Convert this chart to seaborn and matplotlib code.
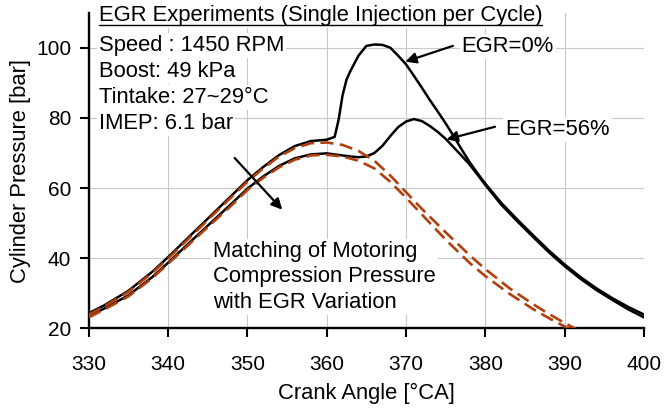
import matplotlib
matplotlib.use("Agg")
import matplotlib.pyplot as plt
import seaborn as sns
import numpy as np
import pandas as pd

# ---------------- data ----------------
angle_f0 = [330, 332, 335, 338, 340, 343, 345, 348, 350, 352, 354, 356, 358, 360, 361,
            361.5, 362, 362.5, 363, 364, 365, 366, 367, 368, 369, 370, 371, 372, 373,
            374, 375, 376, 377, 378, 379, 380, 382, 384, 386, 388, 390, 392, 394, 396,
            398, 400]
press_f0 = [24.2, 26.5, 30.6, 36.0, 40.2, 46.8, 51.2, 57.8, 62.2, 66.0, 69.4, 72.0, 73.4,
            73.8, 74.6, 79.5, 86.5, 91.0, 93.5, 97.8, 100.6, 101.0, 100.9, 100.1, 97.8,
            95.3, 92.0, 88.6, 85.1, 81.8, 78.4, 74.8, 71.0, 67.4, 64.2, 61.2, 55.7, 51.0,
            46.5, 42.1, 38.1, 34.5, 31.3, 28.5, 26.0, 23.8]

angle_f56 = [330, 332, 335, 338, 340, 343, 345, 348, 350, 352, 354, 356, 358, 360, 362,
             363, 364, 365, 366, 367, 368, 369, 370, 371, 372, 373, 374, 375, 376, 377,
             378, 379, 380, 382, 384, 386, 388, 390, 392, 394, 396, 398, 400]
press_f56 = [23.3, 25.6, 29.3, 34.5, 38.6, 45.0, 49.2, 55.5, 59.8, 63.3, 66.3, 68.5, 69.6,
             69.9, 69.3, 69.0, 68.8, 69.0, 70.0, 72.0, 74.8, 77.4, 79.0, 79.7, 79.1, 77.7,
             76.0, 74.0, 71.6, 69.2, 66.7, 63.8, 60.8, 55.2, 50.5, 46.0, 41.6, 37.6, 34.0,
             30.8, 28.0, 25.3, 23.0]

angle_m0 = [330, 332, 335, 338, 340, 343, 345, 348, 350, 352, 354, 356, 358, 360, 362,
            364, 366, 368, 370, 372, 375, 378, 380, 383, 386, 388, 390, 391, 392]
press_m0 = [23.8, 26.2, 30.3, 35.7, 39.8, 46.4, 50.8, 57.4, 61.8, 65.6, 69.0, 71.4, 72.8,
            73.0, 72.3, 70.6, 67.8, 63.6, 58.8, 54.0, 47.3, 40.8, 36.8, 31.4, 26.8, 24.0,
            21.4, 20.2, 19.0]

angle_m56 = [330, 332, 335, 338, 340, 343, 345, 348, 350, 352, 354, 356, 358, 360, 362,
             364, 366, 368, 370, 372, 375, 378, 380, 383, 386, 388, 390, 391]
press_m56 = [23.0, 25.3, 29.0, 34.2, 38.3, 44.6, 48.8, 55.0, 59.4, 62.9, 65.9, 68.1, 69.3,
             69.5, 69.0, 67.8, 65.6, 61.8, 57.2, 52.4, 45.2, 38.6, 34.8, 29.8, 25.4, 22.8,
             20.4, 19.2]

x_ticks = [330, 340, 350, 360, 370, 380, 390, 400]
y_ticks = [20, 40, 60, 80, 100]

title_text = "EGR Experiments (Single Injection per Cycle)"
info_lines = ["Speed : 1450 RPM", "Boost: 49 kPa", "Tintake: 27~29°C", "IMEP: 6.1 bar"]
match_text = "Matching of Motoring\nCompression Pressure\nwith EGR Variation"
label_egr0 = "EGR=0%"
label_egr56 = "EGR=56%"
x_label = "Crank Angle [°CA]"
y_label = "Cylinder Pressure [bar]"

# ---------------- style ----------------
sns.set_theme(style="white")
plt.rcParams["font.family"] = ["Liberation Sans", "DejaVu Sans"]

BROWN = "#b0400f"
FS = 15.8

fig = plt.figure(figsize=(6.64, 4.11), dpi=100)
ax = fig.add_axes([0.1333, 0.2019, 0.8370, 0.7665])

# fired curves (black)
sns.lineplot(x=angle_f0, y=press_f0, ax=ax, color="black", lw=1.8, zorder=3)
sns.lineplot(x=angle_f56, y=press_f56, ax=ax, color="black", lw=1.8, zorder=3)
# motoring curves (dashed brown)
for ang, pr in [(angle_m0, press_m0), (angle_m56, press_m56)]:
    sns.lineplot(x=ang, y=pr, ax=ax, color=BROWN, lw=1.9, zorder=4)
    ax.lines[-1].set_dashes((5, 2.4))

ax.set_xlim(330, 400)
ax.set_ylim(20, 110)
ax.set_xticks(x_ticks)
ax.set_yticks(y_ticks)
ax.grid(True, color="#c8c8c8", lw=0.8)
ax.set_axisbelow(True)

for s in ["top", "right"]:
    ax.spines[s].set_visible(False)
for s in ["left", "bottom"]:
    ax.spines[s].set_color("black")
    ax.spines[s].set_linewidth(1.7)

ax.tick_params(axis="x", which="major", direction="out", length=6.5, width=1.5,
               color="black", labelsize=15, pad=13, labelcolor="black", bottom=True)
ax.tick_params(axis="y", which="major", direction="out", length=6.5, width=1.5,
               color="black", labelsize=15, pad=6, labelcolor="black", left=True)

ax.set_xlabel(x_label, fontsize=FS, color="black")
ax.set_ylabel(y_label, fontsize=FS, color="black")
ax.xaxis.set_label_coords(0.5, -0.175)
ax.yaxis.set_label_coords(-0.103, 0.5)

wbox = dict(fc="white", ec="none", pad=1.5)

# title (underlined)
t = ax.text(331.3, 109.4, title_text, fontsize=FS, ha="left", va="center",
            color="black", bbox=wbox, zorder=5)

# info block
for i, line in enumerate(info_lines):
    ax.text(331.3, 100.6 - i * 7.35, line, fontsize=FS, ha="left", va="center",
            color="black", bbox=wbox, zorder=5)

# matching text
ax.text(345.7, 34.6, match_text, fontsize=FS, ha="left", va="center",
        color="black", linespacing=1.3, bbox=wbox, zorder=5)

# EGR labels
ax.text(377.0, 100.5, label_egr0, fontsize=FS, ha="left", va="center",
        color="black", bbox=wbox, zorder=5)
ax.text(382.5, 76.7, label_egr56, fontsize=FS, ha="left", va="center",
        color="black", bbox=wbox, zorder=5)

arrow = dict(arrowstyle="-|>", color="black", lw=1.6, mutation_scale=16,
             shrinkA=0, shrinkB=0)
ax.annotate("", xy=(369.9, 96.1), xytext=(375.9, 100.6), arrowprops=arrow, zorder=6)
ax.annotate("", xy=(375.1, 73.9), xytext=(381.2, 77.5), arrowprops=arrow, zorder=6)
ax.annotate("", xy=(354.4, 53.8), xytext=(348.4, 68.6), arrowprops=arrow, zorder=6)

# underline for title
fig.canvas.draw()
bb = t.get_window_extent(renderer=fig.canvas.get_renderer())
inv = ax.transData.inverted()
(x0, _), (x1, _) = inv.transform([(bb.x0, 0), (bb.x1, 0)])
ax.plot([x0, x1], [106.7, 106.7], color="black", lw=1.0, clip_on=False, zorder=6)

fig.savefig("out.png", dpi=100)
